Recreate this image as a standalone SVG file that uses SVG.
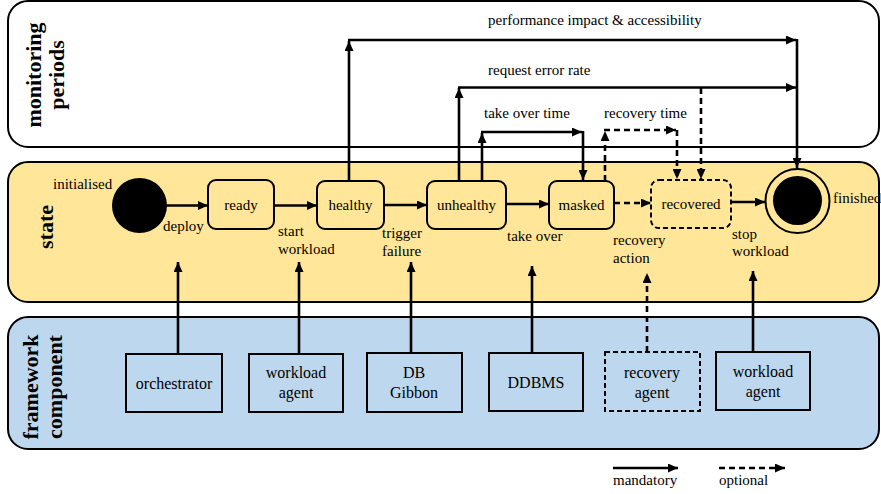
<svg xmlns="http://www.w3.org/2000/svg" width="881" height="494" viewBox="0 0 881 494">
<style>
text{font-family:"Liberation Serif","Times New Roman",serif;fill:#000}
.t{font-size:15px}
.b{font-size:16px;text-anchor:middle}
.n{font-size:15px;text-anchor:middle}
.lane{font-size:22px;font-weight:bold;text-anchor:middle}
.panel{stroke:#000;stroke-width:2}
.st{fill:#FFE699;stroke:#000;stroke-width:2}
.fc{fill:#BDD7EE;stroke:#000;stroke-width:2}
.c{fill:none;stroke:#000;stroke-width:2.6}
.d{stroke-dasharray:6,4}
</style>
<defs>
<marker id="ah" markerUnits="userSpaceOnUse" markerWidth="10" markerHeight="9" refX="10" refY="4.5" orient="auto">
<path d="M0,0 L10,4.5 L0,9 z" fill="#000"/>
</marker>
</defs>

<g id="panels">
<rect id="monitoring-panel" class="panel" x="8" y="1" width="871" height="146" rx="20" fill="#fff"/>
<rect id="state-panel" class="panel" x="8" y="162" width="871" height="140" rx="20" fill="#FFE699"/>
<rect id="framework-panel" class="panel" x="8" y="317" width="871" height="132" rx="20" fill="#BDD7EE"/>
<text class="lane" transform="translate(41,75) rotate(-90)">monitoring</text>
<text class="lane" transform="translate(64,75) rotate(-90)">periods</text>
<text class="lane" transform="translate(53,227) rotate(-90)">state</text>
<text class="lane" transform="translate(38,387) rotate(-90)">framework</text>
<text class="lane" transform="translate(62,387) rotate(-90)">component</text>
</g>

<g id="initialised">
<circle cx="139.5" cy="205.5" r="27.5" fill="#000"/>
<text class="t" x="53" y="189">initialised</text>
</g>
<g id="ready">
<rect class="st" x="208" y="180" width="66" height="49" rx="8"/>
<text class="n" x="241" y="210">ready</text>
</g>
<g id="healthy">
<rect class="st" x="317" y="181" width="67" height="48" rx="8"/>
<text class="n" x="350.5" y="210">healthy</text>
</g>
<g id="unhealthy">
<rect class="st" x="427" y="181" width="79" height="48" rx="8"/>
<text class="n" x="466.5" y="210">unhealthy</text>
</g>
<g id="masked">
<rect class="st" x="549" y="181" width="65" height="48" rx="8"/>
<text class="n" x="581.5" y="210">masked</text>
</g>
<g id="recovered">
<rect class="st" x="651" y="180" width="80" height="48" rx="8" stroke-dasharray="5,3"/>
<text class="n" x="691" y="209">recovered</text>
</g>
<g id="finished">
<circle cx="797.5" cy="201" r="32" fill="#FFE699" stroke="#000" stroke-width="2"/>
<circle cx="797.5" cy="200.5" r="24.5" fill="#000"/>
<text class="t" x="833" y="203">finished</text>
</g>

<g id="orchestrator">
<rect class="fc" x="126" y="354" width="96" height="58"/>
<text class="b" x="174" y="389">orchestrator</text>
</g>
<g id="workload-agent-1">
<rect class="fc" x="249" y="354" width="94" height="58"/>
<text class="b" x="296" y="378">workload</text>
<text class="b" x="296" y="398">agent</text>
</g>
<g id="db-gibbon">
<rect class="fc" x="367" y="353" width="95" height="59"/>
<text class="b" x="414" y="378">DB</text>
<text class="b" x="414" y="398">Gibbon</text>
</g>
<g id="ddbms">
<rect class="fc" x="489" y="353" width="94" height="58"/>
<text class="b" x="536" y="388">DDBMS</text>
</g>
<g id="recovery-agent">
<rect class="fc" x="605" y="352" width="95" height="59" stroke-dasharray="5,3"/>
<text class="b" x="652" y="378">recovery</text>
<text class="b" x="652" y="398">agent</text>
</g>
<g id="workload-agent-2">
<rect class="fc" x="716" y="352" width="94" height="58"/>
<text class="b" x="763" y="377">workload</text>
<text class="b" x="763" y="397">agent</text>
</g>

<g id="connectors">
<!-- state transitions -->
<path class="c" d="M167,205.5 H208" marker-end="url(#ah)"/>
<path class="c" d="M274,205.5 H317" marker-end="url(#ah)"/>
<path class="c" d="M384,205 H427" marker-end="url(#ah)"/>
<path class="c" d="M506,204 H549" marker-end="url(#ah)"/>
<path class="c d" d="M614,203 H651" marker-end="url(#ah)"/>
<path class="c" d="M731,202 H765" marker-end="url(#ah)"/>
<!-- framework to state -->
<path class="c" d="M178,354 V262" marker-end="url(#ah)"/>
<path class="c" d="M299,354 V262" marker-end="url(#ah)"/>
<path class="c" d="M411,353 V262" marker-end="url(#ah)"/>
<path class="c" d="M532,353 V266" marker-end="url(#ah)"/>
<path class="c d" d="M647,352 V273" marker-end="url(#ah)"/>
<path class="c" d="M753,352 V271" marker-end="url(#ah)"/>
<!-- performance impact & accessibility -->
<path class="c" d="M349,181 V41" marker-end="url(#ah)"/>
<path class="c" d="M348,40 H796" marker-end="url(#ah)"/>
<path class="c" d="M797,39 V168" marker-end="url(#ah)"/>
<!-- request error rate -->
<path class="c" d="M459,181 V88" marker-end="url(#ah)"/>
<path class="c" d="M458,87.5 H796" marker-end="url(#ah)"/>
<path class="c d" d="M701,88 V179" marker-end="url(#ah)"/>
<!-- take over time -->
<path class="c" d="M482,181 V133" marker-end="url(#ah)"/>
<path class="c" d="M481,132 H582" marker-end="url(#ah)"/>
<path class="c" d="M583,131 V180" marker-end="url(#ah)"/>
<!-- recovery time -->
<path class="c d" d="M605,181 V131" marker-end="url(#ah)"/>
<path class="c d" d="M604,130 H676" marker-end="url(#ah)"/>
<path class="c d" d="M677,130 V179" marker-end="url(#ah)"/>
<!-- legend -->
<path class="c" d="M613,468 H678" marker-end="url(#ah)"/>
<path class="c d" d="M719,468 H785" marker-end="url(#ah)"/>
</g>

<g id="labels">
<text class="t" x="488" y="25">performance impact &amp; accessibility</text>
<text class="t" x="488" y="75">request error rate</text>
<text class="t" x="484" y="118">take over time</text>
<text class="t" x="604" y="118">recovery time</text>
<text class="t" x="163" y="231">deploy</text>
<text class="t" x="278" y="236">start</text>
<text class="t" x="278" y="254">workload</text>
<text class="t" x="382" y="238">trigger</text>
<text class="t" x="382" y="256">failure</text>
<text class="t" x="507" y="241">take over</text>
<text class="t" x="613" y="245">recovery</text>
<text class="t" x="613" y="263">action</text>
<text class="t" x="732" y="239">stop</text>
<text class="t" x="732" y="256">workload</text>
<text class="t" x="613" y="485">mandatory</text>
<text class="t" x="719" y="485">optional</text>
</g>
</svg>
